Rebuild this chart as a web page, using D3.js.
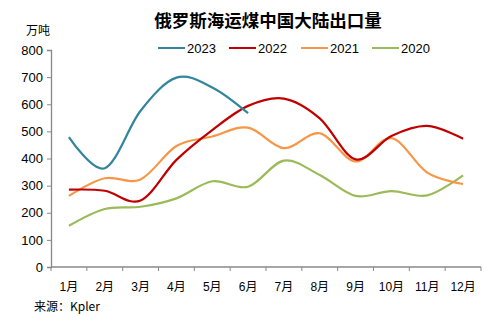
<!DOCTYPE html>
<html>
<head>
<meta charset="utf-8">
<script src="https://cdn.jsdelivr.net/npm/d3@7.9.0/dist/d3.min.js"></script>
<style>
  body { margin: 0; background: #fff; }
  svg { display: block; font-family: "Liberation Sans", "Noto Sans CJK SC", sans-serif; }
</style>
</head>
<body>
<svg id="chart" width="488" height="321"></svg>
<script>
const months = ['1月', '2月', '3月', '4月', '5月', '6月', '7月', '8月', '9月', '10月', '11月', '12月'];
const yTicks = [0, 100, 200, 300, 400, 500, 600, 700, 800];

const years = ['2023', '2022', '2021', '2020'];
const colors = ['#31859C', '#C00000', '#F79646', '#9BBB59'];

const v2023 = [479, 364, 576, 698, 662, 567];
const v2022 = [285, 281, 245, 395, 505, 594, 621, 548, 397, 483, 520, 473];
const v2021 = [262, 327, 323, 446, 481, 514, 438, 493, 389, 475, 348, 306];
const v2020 = [152, 214, 222, 253, 316, 296, 392, 339, 262, 280, 264, 338];

const series = [v2023, v2022, v2021, v2020];

const svg = d3.select('#chart');

const x = d3.scaleBand().domain(months).range([51, 481]);
const y = d3.scaleLinear().domain([0, 800]).range([267, 50]);

// title and unit
svg.append('text')
  .attr('x', 268).attr('y', 27)
  .attr('text-anchor', 'middle')
  .attr('font-size', 17.5).attr('font-weight', 'bold')
  .attr('font-family', '"Noto Sans CJK SC", sans-serif')
  .text('俄罗斯海运煤中国大陆出口量');

svg.append('text')
  .attr('x', 26).attr('y', 35)
  .attr('font-size', 12)
  .attr('font-family', '"Noto Sans CJK SC", sans-serif')
  .text('万吨');

// legend
const legendX = [158, 229, 301, 372];
years.forEach((yr, i) => {
  const g = svg.append('g').attr('transform', `translate(${legendX[i]},48)`);
  g.append('line').attr('x1', 0).attr('x2', 27).attr('y1', 0).attr('y2', 0)
    .attr('stroke', colors[i]).attr('stroke-width', 2);
  g.append('text').attr('x', 29).attr('y', 5).attr('font-size', 13).text(yr);
});

// y axis
const yAxis = svg.append('g')
  .attr('transform', 'translate(51,0)')
  .call(d3.axisLeft(y).tickValues(yTicks).tickSize(4).tickPadding(4));
yAxis.select('.domain').attr('stroke', '#888').attr('stroke-width', 1.3);
yAxis.selectAll('.tick line').attr('stroke', '#888');
yAxis.selectAll('.tick text').attr('font-size', 13).attr('fill', '#000')
  .attr('font-family', '"Liberation Sans", sans-serif');

// x axis, ticks sit on the band boundaries
const xAxis = svg.append('g').attr('transform', 'translate(0,267)');
xAxis.append('line').attr('x1', 51).attr('x2', 481).attr('stroke', '#888').attr('stroke-width', 1.3);
xAxis.selectAll('line.tk')
  .data(months.concat(['end']))
  .join('line')
  .attr('class', 'tk')
  .attr('x1', (d, i) => 51 + i * x.bandwidth())
  .attr('x2', (d, i) => 51 + i * x.bandwidth())
  .attr('y1', 0).attr('y2', 4)
  .attr('stroke', '#888');
xAxis.selectAll('text')
  .data(months)
  .join('text')
  .attr('x', d => x(d) + x.bandwidth() / 2)
  .attr('y', 24)
  .attr('text-anchor', 'middle')
  .attr('font-size', 12)
  .attr('font-family', '"Liberation Sans", "Noto Sans CJK SC", sans-serif')
  .text(d => d);

// series lines
const line = d3.line()
  .x((d, i) => x(months[i]) + x.bandwidth() / 2)
  .y(d => y(d))
  .curve(d3.curveCatmullRom.alpha(0));

svg.selectAll('path.series')
  .data(series.slice().reverse())
  .join('path')
  .attr('class', 'series')
  .attr('d', d => line(d))
  .attr('fill', 'none')
  .attr('stroke', (d, i) => colors[colors.length - 1 - i])
  .attr('stroke-width', 2.2);

// source note
svg.append('text')
  .attr('x', 34).attr('y', 311)
  .attr('font-size', 12)
  .attr('font-family', '"Noto Sans CJK SC", sans-serif')
  .text('来源：Kpler');
</script>
</body>
</html>
